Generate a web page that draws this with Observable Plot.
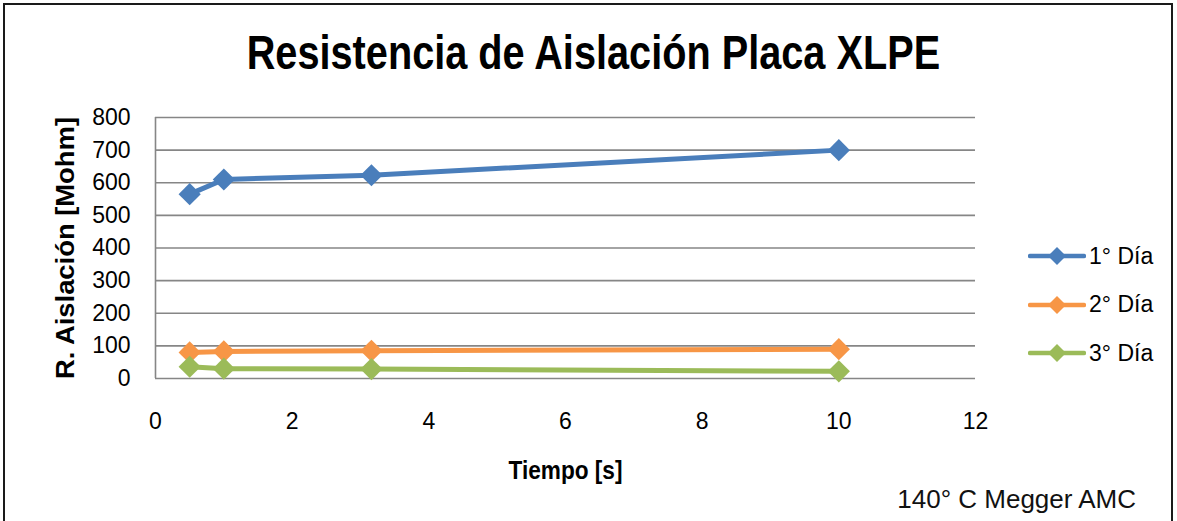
<!DOCTYPE html>
<html>
<head>
<meta charset="utf-8">
<script src="https://cdn.jsdelivr.net/npm/d3@7"></script>
<script src="https://cdn.jsdelivr.net/npm/@observablehq/plot@0.6"></script>
<style>
  html, body { margin: 0; padding: 0; background: #fff; }
  body { width: 1177px; height: 521px; overflow: hidden; position: relative;
         font-family: "Liberation Sans", Arial, sans-serif; }
  #frame { position: absolute; left: 3px; top: 3px; width: 1170px; height: 530px; border: 2.5px solid #1a1a1a; box-sizing: border-box; }
  #title { position: absolute; left: 0; width: 1187px; top: 24px; text-align: center;
           font-weight: bold; font-size: 49px; color: #000; transform: scaleX(0.81); transform-origin: 593px 0; line-height: 1.15; }
  #chart { position: absolute; left: 0; top: 0; }
  #legend { position: absolute; left: 1028px; top: 232px; font-size: 23px; color: #000; }
  #legend .row { height: 48.5px; display: flex; align-items: center; }
  #legend svg { margin-right: 3px; }
  #legend span { display: inline-block; }
  #caption { position: absolute; right: 41px; top: 484px; font-size: 26px; color: #111; }
</style>
</head>
<body>
<div id="frame"></div>
<div id="chart"></div>
<div id="title">Resistencia de Aislación Placa XLPE</div>
<div id="legend"></div>
<div id="caption">140° C Megger AMC</div>
<script>
const tiempos = [0.5, 1, 3.16, 10];
const series = ["1° Día", "2° Día", "3° Día"];
const dia1 = [565, 610, 623, 700];
const dia2 = [80, 83, 85, 90];
const dia3 = [36, 30, 29, 22];
const colores = ["#4a7ebb", "#f79646", "#9bbb59"];
const xTicks = [0, 2, 4, 6, 8, 10, 12];
const yTicks = [0, 100, 200, 300, 400, 500, 600, 700, 800];

const valores = [dia1, dia2, dia3];
const data = series.flatMap((s, i) => tiempos.map((t, j) => ({serie: s, t, v: valores[i][j]})));

const fontFam = '"Liberation Sans", Arial, sans-serif';
const plot = Plot.plot({
  width: 1177,
  height: 521,
  marginLeft: 155,
  marginRight: 202,
  marginTop: 117,
  marginBottom: 143,
  style: {fontFamily: fontFam, fontSize: "23px", color: "#000", background: "transparent"},
  x: {domain: [0, 12], label: null},
  y: {domain: [0, 800], label: null},
  color: {domain: series, range: colores},
  marks: [
    Plot.gridY(yTicks, {stroke: "#868686", strokeOpacity: 1, strokeWidth: 1.6}),
    Plot.ruleX([0], {stroke: "#868686", strokeWidth: 1.6}),
    Plot.axisX({ticks: xTicks, tickSize: 0, tickPadding: 34, fontSize: 23, label: null}),
    Plot.axisY({ticks: yTicks, tickSize: 0, tickPadding: 25, fontSize: 23, label: null}),
    Plot.line(data, {x: "t", y: "v", stroke: "serie", strokeWidth: 5, curve: "linear"}),
    Plot.dot(data, {x: "t", y: "v", fill: "serie", symbol: "diamond2", r: 10, stroke: null}),
    Plot.text(["Tiempo [s]"], {frameAnchor: "bottom", dy: 100, fontWeight: "bold", fontSize: 25, className: "xlabel"}),
    Plot.text(["R. Aislación [Mohm]"], {frameAnchor: "left", textAnchor: "middle", dx: -90, rotate: -90, fontWeight: "bold", fontSize: 25, className: "ylabel"})
  ]
});
document.getElementById("chart").appendChild(plot);
// condense the bold axis titles to mimic the narrow face of the original
plot.querySelectorAll(".xlabel text").forEach(t => { t.setAttribute("textLength", 114); t.setAttribute("lengthAdjust", "spacingAndGlyphs"); });
plot.querySelectorAll(".ylabel text").forEach(t => { t.setAttribute("textLength", 262); t.setAttribute("lengthAdjust", "spacingAndGlyphs"); });

const leg = document.getElementById("legend");
series.forEach((s, i) => {
  const row = document.createElement("div");
  row.className = "row";
  row.innerHTML = `<svg width="58" height="20" viewBox="0 0 58 20"><line x1="2" y1="10" x2="56" y2="10" stroke="${colores[i]}" stroke-width="4.5" stroke-linecap="round"/><path d="M29,1 L38,10 L29,19 L20,10 Z" fill="${colores[i]}"/></svg><span>${s}</span>`;
  leg.appendChild(row);
});
</script>
</body>
</html>
